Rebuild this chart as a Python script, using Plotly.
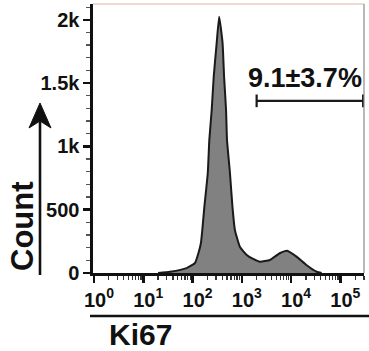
import plotly.graph_objects as go

# ---- data ----
ki67 = [20, 35, 76, 112, 132, 148, 158, 174, 204, 219, 245, 269, 309, 347,
        407, 437, 479, 501, 575, 646, 724, 912, 1259, 1698, 2344, 3715,
        5888, 8318, 12882, 20417, 33113, 41687]
count = [0, 10, 39, 79, 158, 237, 340, 524, 790, 1050, 1288, 1550, 1817, 2025,
         1817, 1550, 1288, 1050, 790, 524, 340, 208, 142, 111, 89, 103,
         156, 176, 129, 63, 10, 0]

y_tickvals = [0, 500, 1000, 1500, 2000]
y_ticktext = ["0", "500", "1k", "1.5k", "2k"]
x_tickvals = [1, 10, 100, 1000, 10000, 100000]
x_ticktext = ["10<sup>0</sup>", "10<sup>1</sup>", "10<sup>2</sup>",
              "10<sup>3</sup>", "10<sup>4</sup>", "10<sup>5</sup>"]

gate_low = 2000
gate_high = 290000
gate_y = 1360
gate_label = "9.1±3.7%"

x_title = "Ki67"
y_title = "Count"

# ---- layout geometry ----
W, H = 369, 351
L, R, T, B = 93, 5, 4, 78
PW, PH = W - L - R, H - T - B


def px(x):
    return (x - L) / PW


def py(y):
    return (H - B - y) / PH


FONT = "Liberation Sans, Arial, sans-serif"

fig = go.Figure()
fig.add_trace(go.Scatter(
    x=ki67, y=count, mode="lines", fill="tozeroy",
    fillcolor="#818181", line=dict(color="#1a1a1a", width=2, shape="spline", smoothing=0.4),
    hoverinfo="skip", showlegend=False,
))

shapes = [
    # gate bar
    dict(type="line", xref="x", yref="y", x0=gate_low, x1=gate_high, y0=gate_y, y1=gate_y,
         line=dict(color="#1a1a1a", width=2.2)),
    dict(type="line", xref="x", yref="y", x0=gate_low, x1=gate_low, y0=gate_y - 50, y1=gate_y + 50,
         line=dict(color="#1a1a1a", width=2.2)),
    dict(type="line", xref="x", yref="y", x0=gate_high, x1=gate_high, y0=gate_y - 50, y1=gate_y + 50,
         line=dict(color="#1a1a1a", width=2.2)),
    # frame top & right
    dict(type="line", xref="paper", yref="paper", x0=0, x1=1, y0=1, y1=1,
         line=dict(color="#e2b49c", width=1.2)),
    dict(type="line", xref="paper", yref="paper", x0=1, x1=1, y0=0, y1=1,
         line=dict(color="#8a8a8a", width=1.2)),
    # line under x tick labels
    dict(type="line", xref="paper", yref="paper", x0=px(90), x1=px(370), y0=py(316), y1=py(316),
         line=dict(color="#111111", width=2.6)),
    # vertical arrow shaft for "Count"
    dict(type="line", xref="paper", yref="paper", x0=px(40), x1=px(40), y0=py(275), y1=py(118),
         line=dict(color="#111111", width=2.6)),
    dict(type="path", xref="paper", yref="paper",
         path=f"M {px(40)},{py(103)} L {px(29)},{py(128)} L {px(40)},{py(121)} L {px(51)},{py(128)} Z",
         fillcolor="#111111", line=dict(color="#111111", width=1)),
]

annotations = [
    dict(text=f"<b>{gate_label}</b>", xref="paper", yref="paper", x=px(305), y=py(78),
         showarrow=False, font=dict(family=FONT, size=27, color="#111111"),
         xanchor="center", yanchor="middle"),
    dict(text=f"<b>{x_title}</b>", xref="paper", yref="paper", x=px(140), y=py(334),
         showarrow=False, font=dict(family=FONT, size=30, color="#111111"),
         xanchor="center", yanchor="middle"),
    dict(text=f"<b>{y_title}</b>", xref="paper", yref="paper", x=px(22), y=py(226),
         showarrow=False, textangle=-90, font=dict(family=FONT, size=31, color="#111111"),
         xanchor="center", yanchor="middle"),
]

fig.update_layout(
    template="none",
    width=W, height=H,
    margin=dict(l=L, r=R, t=T, b=B, pad=0, autoexpand=False),
    plot_bgcolor="white", paper_bgcolor="white",
    shapes=shapes, annotations=annotations,
    font=dict(family=FONT, color="#111111"),
)

fig.update_xaxes(
    automargin=False,
    type="log", range=[-0.02, 5.48],
    tickvals=x_tickvals, ticktext=x_ticktext,
    tickfont=dict(family=FONT, size=20, color="#111111", weight="bold"),
    ticks="outside", ticklen=7, tickwidth=2.5, tickcolor="#111111",
    showline=True, linecolor="#111111", linewidth=2.6,
    showgrid=False, zeroline=False,
    minor=dict(ticks="outside", ticklen=4, tickwidth=1.3, tickcolor="#333333", dtick="D1", showgrid=False),
    ticklabelshift=5,
)
fig.update_yaxes(
    automargin=False,
    range=[0, 2125],
    tickvals=y_tickvals, ticktext=y_ticktext,
    tickfont=dict(family=FONT, size=20, color="#111111", weight="bold"),
    ticks="outside", ticklen=7, tickwidth=2.5, tickcolor="#111111",
    showline=True, linecolor="#111111", linewidth=2.6,
    showgrid=False, zeroline=False,
    minor=dict(ticks="outside", ticklen=4, tickwidth=1.3, tickcolor="#555555", dtick=100, showgrid=False),
)

fig.write_html(
    "out.html",
    config={"displayModeBar": False, "staticPlot": True},
    post_script="document.body.style.margin='0';document.body.style.padding='0';document.body.style.overflow='hidden';",
)
